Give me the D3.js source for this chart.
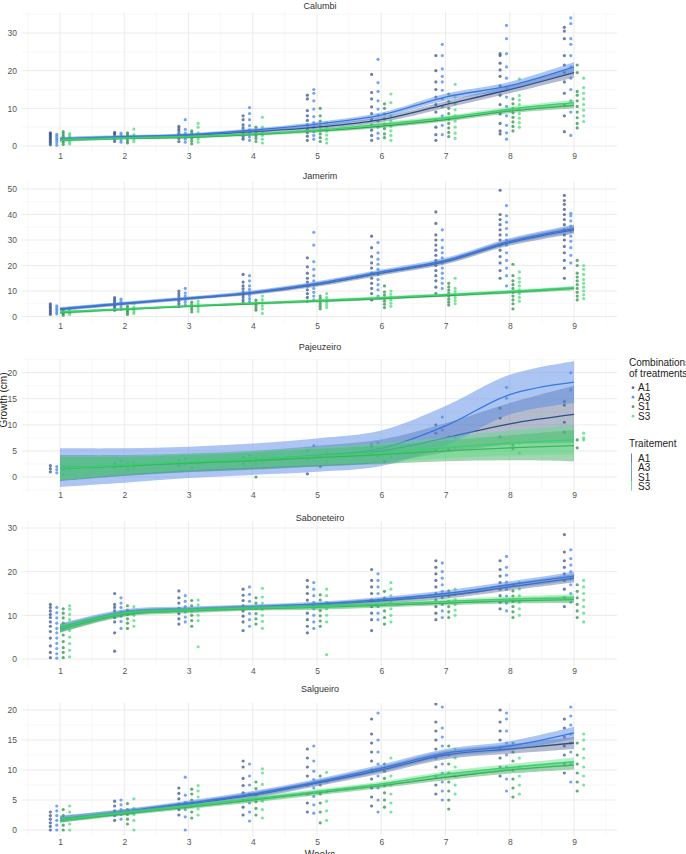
<!DOCTYPE html>
<html><head><meta charset="utf-8">
<script src="https://cdn.jsdelivr.net/npm/d3@7"></script>
<style>body{margin:0;background:#fff} svg{display:block} text{font-family:"Liberation Sans",Arial,Helvetica,sans-serif}</style>
</head><body><svg id="c" width="686" height="854"></svg>
<script>
// ---------------- DATA ----------------
const weeks = [1,2,3,4,5,6,7,8,9];
const treatments = ["A1","A3","S1","S3"];
const panelNames = ["Calumbi","Jamerim","Pajeuzeiro","Saboneteiro","Salgueiro"];
const calumbiTicks = [0,10,20,30];
const jamerimTicks = [0,10,20,30,40,50];
const pajeuzeiroTicks = [0,5,10,15,20];
const saboneteiroTicks = [0,10,20,30];
const salgueiroTicks = [0,5,10,15,20];

// Calumbi observations (per week)
const calumbiA1 = [[0.3,0.8,1.2,1.6,2.0,2.4,2.8,3.2,3.5],[1.2,1.8,2.3,2.8,3.3,3.6],[1.2,2.0,2.7,3.3,4.0,4.6,5.2],[1.8,2.5,3.3,4.0,4.8,5.6,7.0,8.0],[1.5,2.6,3.6,4.6,5.6,6.8,8.0,9.4,12.5,13.5],[1.5,2.8,4.2,5.6,7.0,8.6,10.4,12.5,14.2,19.0],[1.5,3.0,5.0,7.0,9.0,11.0,13.0,15.0,17.0,20.0,24.0],[3.2,4.0,6.0,8.5,11.0,13.5,16.0,18.5,20.2,22.0,24.0,24.5],[3.8,8.0,11.0,14.0,17.0,19.5,21.5,24.0,28.5,30.5,31.5]];
const calumbiA3 = [[0.2,0.9,1.5,2.0,2.6,3.1],[1.0,1.6,2.2,2.8,3.4],[1.0,1.8,2.6,3.4,4.4,7.0],[1.5,2.4,3.4,4.3,5.4,7.0,8.6,10.2],[1.8,2.8,3.8,5.0,6.2,7.8,9.8,12.0,14.0,15.0],[2.0,3.4,5.0,6.6,8.2,9.8,12.0,14.5,16.8,23.0],[3.0,5.5,8.0,10.5,12.5,14.8,17.0,18.5,20.5,24.0,27.0],[1.8,3.5,5.5,8.0,10.5,13.0,15.5,18.0,21.0,24.5,28.5,32.0],[2.8,9.0,12.0,15.0,18.0,21.0,24.0,27.0,28.5,32.5,34.0]];
const calumbiS1 = [[0.4,1.0,1.5,2.0,2.6,3.2,3.8],[0.8,1.3,1.9,2.5,3.0,3.5],[0.6,1.3,2.0,2.7,3.4,4.0],[1.2,2.0,2.7,3.4,4.2,5.0],[1.2,2.2,3.2,4.2,5.3,6.6,8.0,10.0],[2.2,3.2,4.6,5.8,7.2,8.5,10.0,11.2],[2.5,3.6,4.8,6.0,7.2,8.6,10.0,11.8,13.8],[4.0,5.2,6.4,7.6,8.8,10.0,11.2,12.5],[4.8,6.0,7.5,9.0,10.5,12.0,13.5,14.5,19.5,21.5]];
const calumbiS3 = [[0.5,1.1,1.6,2.2,2.8,3.3],[1.2,1.8,2.4,3.0,4.5],[1.0,1.8,2.5,3.5,5.0,6.0],[0.8,1.8,2.8,3.8,5.0,7.6],[0.8,1.8,2.9,3.9,5.0,6.2],[1.5,2.8,4.0,5.2,6.6,8.0,11.5,13.8],[2.0,3.4,5.0,6.6,8.0,9.6,11.2,13.0,16.4],[5.0,6.2,7.4,8.6,9.8,11.0,12.2,13.4,17.8],[6.5,8.0,9.5,11.0,12.5,14.0,15.5,18.0]];
const calumbiFit = [[1.8,2.3,2.8,3.8,5.0,7.0,11.0,15.0,19.5],[1.9,2.5,3.0,4.2,5.8,8.2,13.0,16.0,21.0],[1.5,2.0,2.3,3.0,4.0,5.3,7.0,9.3,10.8],[1.6,2.1,2.5,3.2,4.2,5.8,7.5,9.8,11.5]];
const calumbiBand = [[0.5,0.4,0.4,0.5,0.6,0.7,0.9,1.0,1.3],[0.5,0.4,0.4,0.5,0.6,0.7,0.9,1.0,1.3],[0.4,0.3,0.3,0.3,0.4,0.5,0.5,0.6,0.8],[0.4,0.3,0.3,0.3,0.4,0.5,0.5,0.6,0.8]];

// Jamerim
const jamerimA1 = [[0.8,1.5,2.2,2.9,3.6,4.3,5.0],[2.5,3.4,4.2,5.0,5.8,6.6,7.4],[4.0,5.0,6.0,7.0,8.0,9.0,10.0],[5.5,6.5,7.6,8.6,9.6,10.8,12.0,13.5,16.5],[6.0,7.5,9.0,10.5,12.0,13.5,15.0,17.0,19.5,23.0],[6.5,9.0,11.0,13.0,15.0,17.0,19.0,21.0,23.5,27.0,31.5],[9.0,11.5,14.0,16.0,18.0,20.0,22.0,24.0,26.0,28.0,30.0,32.0,36.5,41.0],[15.0,18.0,21.0,23.5,26.0,28.0,30.0,32.0,34.0,36.0,38.0,40.0,49.5],[15.0,19.0,22.0,25.0,27.5,30.0,32.0,34.0,36.0,38.0,40.0,42.0,44.0,45.5,47.5]];
const jamerimA3 = [[1.0,1.8,2.6,3.4,4.2],[2.8,3.8,4.8,5.8,6.8],[4.5,5.6,6.8,8.0,9.2,11.0],[5.8,7.0,8.2,9.4,10.6,12.0,14.0,16.0],[6.5,8.0,9.5,11.0,12.5,14.0,16.0,18.5,21.5,28.0,33.0],[8.0,10.5,12.5,14.5,16.5,18.5,20.5,22.5,25.0,29.0],[11.0,13.0,15.0,17.0,19.0,21.0,23.0,25.0,27.0,30.0,34.0],[12.0,16.0,19.0,22.0,25.0,28.0,30.0,32.0,34.5,37.0,39.5,43.5],[21.0,24.0,27.0,29.5,31.5,33.5,35.5,37.5,39.5,40.5]];
const jamerimS1 = [[0.5,1.2,2.0,2.8],[0.8,1.6,2.4,3.2,4.0],[1.8,2.8,3.8,4.6,5.6],[2.5,3.4,4.4,5.4,6.4],[3.0,4.0,5.0,6.0,7.0,8.0],[3.5,4.8,6.0,7.2,8.4,9.6,12.0],[4.5,5.6,6.8,8.0,9.2,10.4,11.6,13.0],[3.0,5.0,6.5,8.0,9.5,11.0,12.5,14.0,16.0,20.5],[6.5,8.0,9.5,11.0,12.5,14.0,15.5,17.0,20.0,22.0]];
const jamerimS3 = [[0.8,1.6,2.4,3.2],[1.2,2.0,2.8,3.6,5.0],[2.0,3.0,4.0,5.0,6.0],[1.2,3.0,4.2,5.4,6.6,8.0],[3.5,4.5,5.5,6.5,7.5,9.0],[4.0,5.2,6.4,7.6,8.8,10.0],[5.0,6.2,7.4,8.6,9.8,11.0,15.0],[6.0,7.5,9.0,10.5,12.0,13.5,15.0,17.5],[7.0,8.5,10.0,11.5,13.0,14.5,16.5,18.5,20.0]];
const jamerimFit = [[2.8,5.0,7.0,9.2,12.5,17.0,21.5,29.0,34.0],[3.0,5.2,7.2,9.5,13.0,17.5,22.0,29.5,34.5],[1.5,2.8,4.0,5.0,6.0,7.0,8.2,9.5,11.0],[1.8,3.0,4.2,5.3,6.3,7.4,8.6,9.8,11.3]];
const jamerimBand = [[0.7,0.6,0.6,0.7,0.8,0.9,1.0,1.2,1.5],[0.7,0.6,0.6,0.7,0.8,0.9,1.0,1.2,1.5],[0.5,0.4,0.4,0.4,0.5,0.5,0.5,0.6,0.7],[0.5,0.4,0.4,0.4,0.5,0.5,0.5,0.6,0.7]];

// Pajeuzeiro
const pajeuzeiroA1 = [[1.0,1.6,2.2],[1.8,2.6],[2.2,3.2],[2.6,3.8],[0.6,3.4,5.0],[4.2,5.8,6.2],[5.2,8.4,10.0],[7.7,11.3,13.2],[8.6,10.5,13.8,14.5]];
const pajeuzeiroA3 = [[0.8,1.4,2.0],[2.0,3.0],[2.5,3.6],[3.0,4.2],[3.8,6.0],[4.0,6.5],[9.0,11.5],[15.1,17.2],[16.7,20.0]];
const pajeuzeiroS1 = [[0.5,1.5,2.0],[1.5,2.5],[1.8,2.8],[0.0,2.5,3.6],[2.0,4.0],[3.0,5.0],[5.2,7.7],[5.4,6.1],[5.6,7.1]];
const pajeuzeiroS3 = [[1.2,2.0],[1.8,2.8],[2.4,3.4],[2.8,4.0],[3.0,4.8],[3.8,6.0],[5.6,7.5],[4.6,6.5],[7.1,7.5,8.4]];
const pajeuzeiroFit = [[1.7,2.2,2.7,3.2,4.0,5.0,7.5,10.2,12.0],[1.8,2.2,2.8,3.4,4.2,5.5,9.8,15.8,18.2],[1.6,2.1,2.6,3.1,3.7,4.3,5.0,5.6,6.0],[1.7,2.3,2.9,3.4,4.0,4.7,5.6,6.5,7.1]];
const pajeuzeiroBand = [[2.5,2.0,1.8,1.8,2.0,2.2,2.8,4.0,5.5],[3.7,3.3,3.0,3.0,3.2,3.4,3.8,3.8,4.0],[2.3,1.8,1.6,1.6,1.7,1.8,2.0,2.4,3.0],[2.3,1.8,1.6,1.6,1.7,1.8,2.0,2.4,2.8]];

// Saboneteiro
const saboneteiroA1 = [[0.3,1.5,3.0,4.8,6.3,7.5,8.5,9.5,10.2,11.0,11.8,12.5],[1.8,6.0,8.5,9.5,10.3,11.0,11.8,12.5,15.0],[8.0,9.2,10.4,11.6,12.8,14.0,15.6],[6.5,8.5,9.8,11.0,12.2,13.4,14.6,16.0],[6.0,7.5,9.0,10.5,12.0,13.5,15.0,16.5,18.0],[6.5,9.0,10.5,12.0,13.5,15.0,16.5,18.0,20.5],[9.0,10.5,12.0,13.5,15.0,16.5,18.0,19.5,21.0,22.5],[11.5,13.0,14.5,16.0,17.5,19.0,20.5,22.5],[12.0,14.0,16.0,18.0,19.5,21.0,22.5,24.5,28.5]];
const saboneteiroA3 = [[0.2,1.2,2.4,3.6,4.8,6.0,7.0,8.2,9.4,10.6,11.8],[7.0,8.6,9.8,10.8,11.8,12.8,14.0],[8.5,9.6,10.8,12.0,13.2,14.5],[7.5,9.0,10.4,11.8,13.2,14.8,16.5],[7.0,8.5,10.0,11.5,13.0,14.5,16.0,17.5],[9.0,10.5,12.0,13.5,15.0,16.5,18.0,19.5],[9.5,11.0,12.5,14.0,15.5,17.0,18.5,20.0,22.0],[11.0,12.8,14.4,16.0,17.6,19.2,21.0,23.5],[13.0,15.0,17.0,18.5,20.0,21.5,23.0,25.0]];
const saboneteiroS1 = [[0.3,1.5,2.6,4.0,5.5,7.0,8.2,9.4,10.5,11.5],[7.0,8.2,9.2,10.2,11.2,12.2],[7.5,8.8,10.0,11.0,12.2,13.4],[8.0,9.2,10.4,11.6,12.8,14.0],[7.5,8.7,9.9,11.1,12.3,13.5,14.7],[8.0,9.5,11.0,12.5,14.0,15.5],[9.5,10.8,12.0,13.2,14.4,15.6],[9.5,10.8,12.0,13.2,14.4,15.6,17.0],[9.5,11.0,12.5,14.0,15.5,17.0]];
const saboneteiroS3 = [[0.5,2.0,3.5,5.0,6.5,7.8,9.0,10.2,11.4,12.2],[7.5,8.8,10.0,11.0,12.0],[2.8,8.8,10.0,11.2,12.4,13.5],[7.0,8.6,10.0,11.4,12.8,14.2,16.2],[1.0,8.5,10.0,11.5,13.0,14.5,16.0],[8.5,10.0,11.5,13.0,14.5,16.0,17.5],[10.0,11.2,12.4,13.6,14.8,16.0],[10.0,11.5,13.0,14.5,16.0,17.5],[8.5,10.5,12.0,13.5,15.0,16.5,18.0]];
const saboneteiroFit = [[7.0,10.5,11.3,11.8,12.3,13.3,14.5,16.5,18.5],[7.2,10.8,11.5,12.0,12.6,13.6,15.0,17.0,19.0],[6.8,10.2,11.0,11.5,11.8,12.3,12.8,13.3,13.6],[7.0,10.5,11.2,11.7,12.0,12.6,13.2,13.7,14.0]];
const saboneteiroBand = [[0.9,0.6,0.5,0.5,0.5,0.6,0.7,0.8,1.0],[0.9,0.6,0.5,0.5,0.5,0.6,0.7,0.8,1.0],[0.8,0.5,0.5,0.4,0.5,0.5,0.5,0.6,0.8],[0.8,0.5,0.5,0.4,0.5,0.5,0.5,0.6,0.8]];

// Salgueiro
const salgueiroA1 = [[0.0,0.6,1.2,1.8,2.4,3.0],[1.6,2.4,3.2,4.0,4.8],[2.5,3.4,4.3,5.2,6.1,7.0],[2.5,3.8,5.0,6.2,7.4,8.6,10.5,11.5],[3.0,4.5,6.0,7.5,9.0,10.5,12.0,13.5],[4.0,5.5,7.0,8.5,10.0,11.5,13.0,14.5,16.0,18.5],[6.0,7.5,9.0,10.5,12.0,13.5,15.0,16.5,18.0,21.0],[9.0,10.5,12.0,13.5,15.0,16.5,18.0,20.0],[9.5,11.0,12.5,14.0,15.5,17.0,18.5]];
const salgueiroA3 = [[0.0,0.8,1.6,2.4,3.2,4.0],[1.8,2.6,3.4,4.2,5.0],[0.0,2.2,3.4,4.6,5.8,8.8],[1.5,3.0,4.5,6.0,7.5,9.0,11.0],[2.8,4.2,5.6,7.0,8.4,9.8,11.5,14.0],[3.0,5.0,7.0,9.0,11.0,13.0,15.0,19.5],[5.0,6.5,8.0,9.5,11.0,12.5,14.0,15.5,17.0,20.5],[6.5,8.5,10.5,12.5,14.5,16.5,18.5,19.5],[8.0,11.0,13.0,14.5,16.0,17.5,19.0,20.5]];
const salgueiroS1 = [[0.0,0.8,1.6,2.4,3.4],[1.0,1.8,2.6,3.4,4.4],[2.0,3.0,4.0,5.0,6.0,6.8],[2.5,3.6,4.7,5.8,6.9,8.0],[1.2,3.0,4.5,6.0,7.5,9.0],[3.8,5.0,6.2,7.4,8.6,9.8,11.0],[3.5,5.0,6.5,8.0,9.5,11.0,12.5,14.0],[5.5,7.0,8.5,10.0,11.5,13.0,14.5],[6.5,8.0,9.5,11.0,12.5,14.5]];
const salgueiroS3 = [[0.0,1.0,2.0,3.0,4.0],[0.0,1.6,2.6,3.6,5.2],[2.5,3.5,4.5,5.5,6.5,7.4],[2.0,3.4,4.8,6.2,7.6,9.5,10.2],[1.6,3.2,4.8,6.4,8.0,9.6],[3.0,4.5,6.0,7.5,9.0,10.5,12.0],[6.0,7.5,9.0,10.5,12.0,13.5],[6.0,7.5,9.0,10.5,12.0],[7.5,9.0,10.5,12.0,13.5,15.0,16.0]];
const salgueiroFit = [[1.8,3.0,4.3,5.8,7.8,10.0,12.5,13.5,14.5],[1.9,3.1,4.5,6.0,8.0,10.3,12.8,14.0,16.2],[1.6,2.7,3.8,5.0,6.2,7.4,8.8,10.0,10.8],[1.7,2.9,4.0,5.2,6.4,7.7,9.3,10.4,11.4]];
const salgueiroBand = [[0.5,0.4,0.4,0.5,0.5,0.6,0.7,0.8,1.0],[0.5,0.4,0.4,0.5,0.5,0.6,0.7,0.8,1.0],[0.4,0.3,0.3,0.4,0.4,0.4,0.5,0.6,0.7],[0.4,0.3,0.3,0.4,0.4,0.4,0.5,0.6,0.7]];

// ---------------- STYLE / LAYOUT ----------------
const pointColors = ["#2c4a80","#3a80ee","#1f8a3d","#3fdc72"];
const lineColors  = ["#2f4d86","#3478e0","#23963f","#36d368"];
const bandColors  = ["#56698f","#5a8ce6","#2fa352","#5fdc85"];
const bandOpacity = [0.45,0.5,0.45,0.45];
const offsets = [-0.15,-0.05,0.05,0.15];

const panels = [
  {name:panelNames[0], ticks:calumbiTicks, obs:[calumbiA1,calumbiA3,calumbiS1,calumbiS3], fit:calumbiFit, band:calumbiBand,
   zeroPx:146, topVal:30, topPx:33, pTop:12, pBot:152, titleY:9, tickY:161},
  {name:panelNames[1], ticks:jamerimTicks, obs:[jamerimA1,jamerimA3,jamerimS1,jamerimS3], fit:jamerimFit, band:jamerimBand,
   zeroPx:316.5, topVal:50, topPx:189, pTop:181, pBot:323, titleY:179, tickY:331},
  {name:panelNames[2], ticks:pajeuzeiroTicks, obs:[pajeuzeiroA1,pajeuzeiroA3,pajeuzeiroS1,pajeuzeiroS3], fit:pajeuzeiroFit, band:pajeuzeiroBand,
   zeroPx:477, topVal:20, topPx:372.7, pTop:359, pBot:491, titleY:350, tickY:500},
  {name:panelNames[3], ticks:saboneteiroTicks, obs:[saboneteiroA1,saboneteiroA3,saboneteiroS1,saboneteiroS3], fit:saboneteiroFit, band:saboneteiroBand,
   zeroPx:659, topVal:30, topPx:528, pTop:521, pBot:666, titleY:521, tickY:676},
  {name:panelNames[4], ticks:salgueiroTicks, obs:[salgueiroA1,salgueiroA3,salgueiroS1,salgueiroS3], fit:salgueiroFit, band:salgueiroBand,
   zeroPx:830, topVal:20, topPx:710, pTop:703, pBot:836, titleY:692, tickY:847}
];

const svg = d3.select("#c");
const x = d3.scaleLinear().domain([1,9]).range([60,574]);
const xLeft = 22, xRight = 617;

panels.forEach((p,pi)=>{
  const y = d3.scaleLinear().domain([0,p.topVal]).range([p.zeroPx,p.topPx]);
  const g = svg.append("g");
  const clipId = "clip"+pi;
  svg.append("clipPath").attr("id",clipId).append("rect")
    .attr("x",xLeft).attr("y",p.pTop).attr("width",xRight-xLeft).attr("height",p.pBot-p.pTop);

  // minor grid
  const step = p.ticks[1]-p.ticks[0];
  const yMin = y.invert(p.pBot), yMax = y.invert(p.pTop);
  const minorY = d3.range(Math.ceil(yMin/(step/2))*(step/2), yMax, step/2).filter(v=>Math.abs((v/step)-Math.round(v/step))>0.01);
  g.selectAll(".mny").data(minorY).join("line")
    .attr("x1",xLeft).attr("x2",xRight).attr("y1",d=>y(d)).attr("y2",d=>y(d))
    .attr("stroke","#f3f3f3").attr("stroke-width",0.6);
  const minorX = d3.range(0.5,9.7,1);
  g.selectAll(".mnx").data(minorX).join("line")
    .attr("x1",d=>x(d)).attr("x2",d=>x(d)).attr("y1",p.pTop).attr("y2",p.pBot)
    .attr("stroke","#f3f3f3").attr("stroke-width",0.6);
  // major grid
  g.selectAll(".mjy").data(p.ticks).join("line")
    .attr("x1",xLeft).attr("x2",xRight).attr("y1",d=>y(d)).attr("y2",d=>y(d))
    .attr("stroke","#e9e9e9").attr("stroke-width",0.9);
  g.selectAll(".mjx").data(weeks).join("line")
    .attr("x1",d=>x(d)).attr("x2",d=>x(d)).attr("y1",p.pTop).attr("y2",p.pBot)
    .attr("stroke","#e9e9e9").attr("stroke-width",0.9);

  // axes via d3 axis generators, styled minimal
  const ya = g.append("g").attr("transform","translate(21,0)")
    .call(d3.axisLeft(y).tickValues(p.ticks).tickSize(0).tickPadding(4));
  ya.select(".domain").remove();
  ya.selectAll("text").attr("font-size",8.5).attr("fill","#555").attr("font-family","Liberation Sans, Arial, sans-serif");
  const xa = g.append("g").attr("transform",`translate(0,${p.tickY-8})`)
    .call(d3.axisBottom(x).tickValues(weeks).tickSize(0).tickPadding(0).tickFormat(d3.format("d")));
  xa.select(".domain").remove();
  xa.selectAll("text").attr("font-size",8.5).attr("fill","#555").attr("dy","0.71em").attr("font-family","Liberation Sans, Arial, sans-serif");

  // title
  g.append("text").attr("x",320).attr("y",p.titleY).attr("text-anchor","middle")
    .attr("font-size",9).attr("fill","#333").text(p.name);

  const plot = g.append("g").attr("clip-path",`url(#${clipId})`);
  // points
  treatments.forEach((t,ti)=>{
    const pts = [];
    p.obs[ti].forEach((vals,wi)=>vals.forEach(v=>pts.push({w:weeks[wi],v})));
    plot.append("g").selectAll("circle").data(pts).join("circle")
      .attr("cx",d=>x(d.w+offsets[ti])).attr("cy",d=>y(d.v)).attr("r",1.6)
      .attr("fill",pointColors[ti]).attr("fill-opacity",0.7);
  });
  // smooths
  treatments.forEach((t,ti)=>{
    const rows = weeks.map((w,i)=>({w, f:p.fit[ti][i], h:p.band[ti][i]}));
    const area = d3.area().curve(d3.curveCatmullRom.alpha(0.5))
      .x(d=>x(d.w)).y0(d=>y(d.f-d.h)).y1(d=>y(d.f+d.h));
    const line = d3.line().curve(d3.curveCatmullRom.alpha(0.5)).x(d=>x(d.w)).y(d=>y(d.f));
    plot.append("path").datum(rows).attr("d",area).attr("fill",bandColors[ti]).attr("fill-opacity",bandOpacity[ti]);
    plot.append("path").datum(rows).attr("d",line).attr("fill","none").attr("stroke",lineColors[ti]).attr("stroke-width",1.3);
  });
});

// axis titles
svg.append("text").attr("transform","translate(7,400) rotate(-90)").attr("text-anchor","middle")
  .attr("font-size",10).attr("fill","#222").text("Growth (cm)");
svg.append("text").attr("x",320).attr("y",858).attr("text-anchor","middle")
  .attr("font-size",10).attr("fill","#222").text("Weeks");

// legends
const lg = svg.append("g");
lg.append("text").attr("x",629).attr("y",366).attr("font-size",10).attr("fill","#222").text("Combinations");
lg.append("text").attr("x",629).attr("y",377).attr("font-size",10).attr("fill","#222").text("of treatments");
treatments.forEach((t,i)=>{
  const yy = 391 + i*9.5;
  lg.append("circle").attr("cx",633).attr("cy",yy-3.3).attr("r",1.4).attr("fill",pointColors[i]).attr("fill-opacity",0.8);
  lg.append("text").attr("x",638).attr("y",yy).attr("font-size",10).attr("fill","#222").text(t);
});
lg.append("text").attr("x",629).attr("y",447).attr("font-size",10).attr("fill","#222").text("Traitement");
treatments.forEach((t,i)=>{
  const yy = 462 + i*9.3;
  lg.append("line").attr("x1",631.5).attr("x2",631.5).attr("y1",yy-8.5).attr("y2",yy+0.8)
    .attr("stroke",lineColors[i]).attr("stroke-width",1).attr("stroke-opacity",0.7);
  lg.append("text").attr("x",638).attr("y",yy).attr("font-size",10).attr("fill","#222").text(t);
});
</script></body></html>
